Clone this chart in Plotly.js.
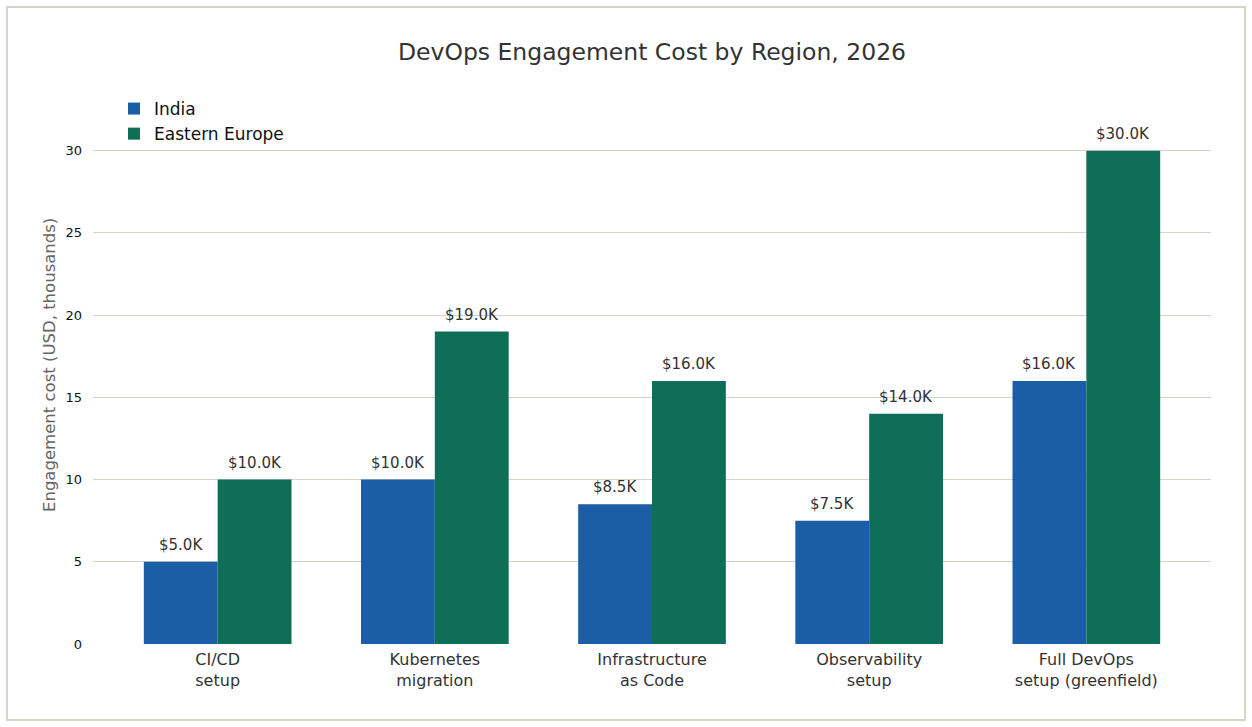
<!DOCTYPE html>
<html>
<head>
<meta charset="utf-8">
<script src="https://cdn.plot.ly/plotly-3.0.1.min.js"></script>
<style>html,body{margin:0;padding:0;background:#fff;}#chart{width:1252px;height:727px;}</style>
</head>
<body>
<div id="chart"></div>
<script>
const categories = ["CI/CD<br>setup", "Kubernetes<br>migration", "Infrastructure<br>as Code", "Observability<br>setup", "Full DevOps<br>setup (greenfield)"];
const india = [5.0, 10.0, 8.5, 7.5, 16.0];
const easternEurope = [10.0, 19.0, 16.0, 14.0, 30.0];
const seriesNames = ["India", "Eastern Europe"];
const yTicks = [0, 5, 10, 15, 20, 25, 30];

const W = 1252, H = 727;
const m = {l: 93, r: 41, t: 126, b: 83};
const pw = W - m.l - m.r, ph = H - m.t - m.b;
const px = v => (v - m.l) / pw;
const py = v => (H - m.b - v) / ph;

const font = "DejaVu Sans, Verdana, sans-serif";
const xIdx = categories.map((_, i) => i);
const barW = 0.34;

const common = {
  type: "bar",
  x: xIdx,
  width: barW,
  hoverinfo: "y+name"
};

const traces = [
  Object.assign({}, common, {name: seriesNames[0], y: india, offset: -barW, marker: {color: "#1b5ea6", line: {width: 0}}}),
  Object.assign({}, common, {name: seriesNames[1], y: easternEurope, offset: 0, marker: {color: "#0f6e58", line: {width: 0}}})
];

const fmt = v => "$" + v.toFixed(1) + "K";
const valueLabels = [];
[[india, -barW / 2], [easternEurope, barW / 2]].forEach(([vals, dx]) => {
  vals.forEach((v, i) => {
    valueLabels.push({
      xref: "x", yref: "y", x: i + dx, y: v,
      text: fmt(v), showarrow: false,
      xanchor: "center", yanchor: "bottom", yshift: 6,
      font: {family: font, size: 15, color: "#333333"}
    });
  });
});

const layout = {
  width: W, height: H,
  margin: m,
  paper_bgcolor: "#ffffff",
  plot_bgcolor: "#ffffff",
  font: {family: font, color: "#333333"},
  title: {text: "DevOps Engagement Cost by Region, 2026", font: {family: font, size: 23.5, color: "#333333"}, xref: "container", x: 652 / W, xanchor: "center", y: 1 - 52 / H, yanchor: "middle"},
  barmode: "overlay",
  xaxis: {
    range: [-0.574, 4.574],
    tickvals: xIdx, ticktext: categories,
    showgrid: false, zeroline: false, showline: false, ticks: "",
    tickfont: {family: font, size: 16, color: "#333333"},
    ticklabelstandoff: 4,
    fixedrange: true
  },
  yaxis: {
    range: [0, 31.5],
    tickvals: yTicks,
    showgrid: true, gridcolor: "#d6d4ca", gridwidth: 1,
    zeroline: false, showline: false, ticks: "",
    tickfont: {family: font, size: 13, color: "#111111"},
    ticklabelstandoff: 10,
    fixedrange: true
  },
  showlegend: true,
  legend: {
    x: px(114), y: py(91), xanchor: "left", yanchor: "top",
    font: {family: font, size: 17, color: "#111111"},
    bgcolor: "rgba(0,0,0,0)", tracegroupgap: 0,
    itemwidth: 30
  },
  annotations: valueLabels.concat([{
    xref: "paper", yref: "paper", x: px(49), y: py(365),
    text: "Engagement cost (USD, thousands)", textangle: -90, showarrow: false,
    xanchor: "center", yanchor: "middle",
    font: {family: font, size: 16.5, color: "#666666"}
  }]),
  shapes: [{
    type: "rect", xref: "paper", yref: "paper", layer: "below",
    x0: px(7), x1: px(1245), y0: py(720), y1: py(7),
    line: {color: "#d6d4ca", width: 2}, fillcolor: "rgba(0,0,0,0)"
  }]
};

Plotly.newPlot("chart", traces, layout, {displayModeBar: false, responsive: false});
</script>
</body>
</html>
